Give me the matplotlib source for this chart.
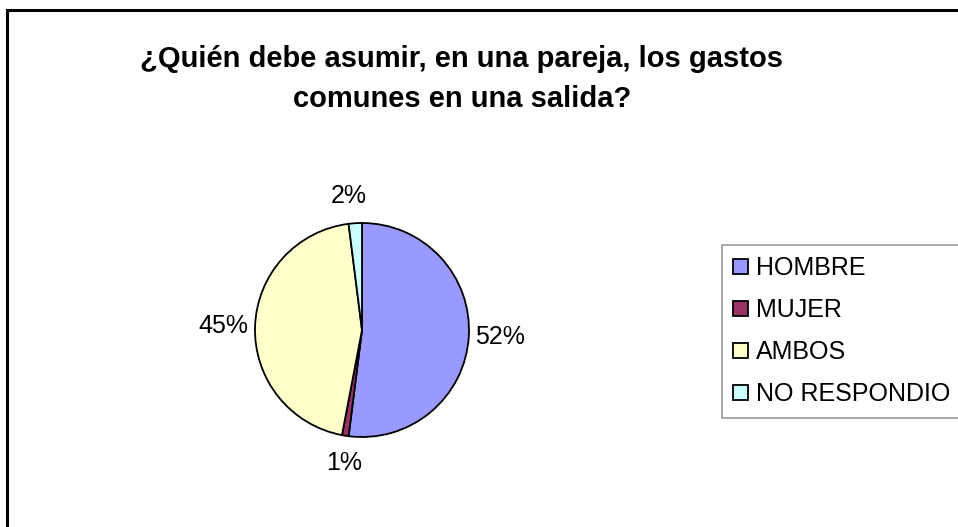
import numpy as np
import matplotlib
matplotlib.use("Agg")
from matplotlib import pyplot as plt
from matplotlib.patches import Rectangle

plt.rcParams['font.family'] = ['Liberation Sans', 'DejaVu Sans']

# data
categories = ["HOMBRE", "MUJER", "AMBOS", "NO RESPONDIO"]
values = [52, 1, 45, 2]
colors = ["#9999FF", "#993366", "#FFFFCC", "#CCFFFF"]
title = "¿Quién debe asumir, en una pareja, los gastos\ncomunes en una salida?"

W, H = 958, 527
fig = plt.figure(figsize=(W / 100, H / 100), dpi=100)

# outer chart frame (right/bottom edges are cut off in the original)
fig.patches.append(Rectangle((6.5 / W, -0.1), 1.2, 1 - 9.5 / H + 0.1,
                             transform=fig.transFigure, fill=False,
                             edgecolor="black", linewidth=2.2))

fig.text(462 / W, 1 - 79 / H, title, ha="center", va="center",
         fontsize=21, fontweight="bold", linespacing=1.55)

# pie: centre (362, 330), radius 107 px
r = 107
ax = fig.add_axes([(362 - r) / W, 1 - (330 + r) / H, 2 * r / W, 2 * r / H])
labels = ["%d%%" % v for v in values]
wedges, texts = ax.pie(values, colors=colors, startangle=90, counterclock=False,
                       labels=labels, labeldistance=1.06,
                       wedgeprops=dict(edgecolor="black", linewidth=1.3),
                       textprops=dict(fontsize=18))
ax.set_xlim(-1, 1)
ax.set_ylim(-1, 1)

# align label boxes so they sit just outside the rim, like Excel does
for t in texts:
    x, y = t.get_position()
    ang = np.degrees(np.arctan2(y, x))
    if 45 <= ang <= 135:
        t.set_ha("center"); t.set_va("bottom")
        t.set_position((x - 0.06, y + 0.08))
    elif -135 <= ang <= -45:
        t.set_ha("center"); t.set_va("top")
        t.set_position((x, y - 0.08))
    elif x > 0:
        t.set_ha("left"); t.set_va("center")
    else:
        t.set_ha("right"); t.set_va("center")

leg = fig.legend(wedges, categories, loc="upper left",
                 bbox_to_anchor=(722 / W, 1 - 245 / H), fontsize=18,
                 frameon=True, fancybox=False, edgecolor="#808080",
                 handlelength=0.6, handleheight=0.6, handletextpad=0.3,
                 labelspacing=0.72, borderpad=0.45, borderaxespad=0)
leg.get_frame().set_linewidth(1.2)
for h in leg.legend_handles:
    h.set_edgecolor("black")
    h.set_linewidth(1.3)

fig.savefig("out.png", dpi=100)
